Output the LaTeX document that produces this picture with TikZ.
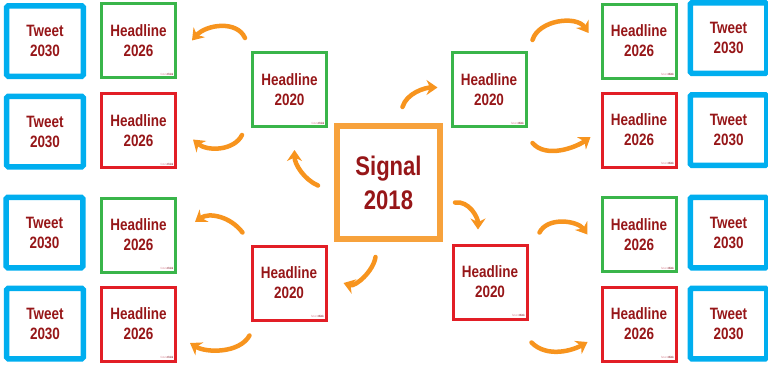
\documentclass[tikz,border=0pt]{standalone}
\usepackage{fontspec}
\setmainfont{Liberation Sans}[FakeStretch=0.82]
\usepackage{xcolor}
\usetikzlibrary{arrows.meta}

\definecolor{tweetblue}{RGB}{0,174,239}
\definecolor{hlgreen}{RGB}{57,181,74}
\definecolor{hlred}{RGB}{226,30,38}
\definecolor{sigorange}{RGB}{247,162,60}
\definecolor{arrorange}{RGB}{247,148,30}
\definecolor{txtred}{RGB}{150,22,24}
\definecolor{logopink}{RGB}{225,165,175}
\definecolor{logodark}{RGB}{150,60,70}

\begin{document}
\begin{tikzpicture}[x=1bp, y=-1bp,
    tweet/.style={draw=tweetblue, line width=5.5bp, rounded corners=1.5bp,
        minimum width=76.5bp, minimum height=70.5bp, inner sep=0pt, align=center,
        text=txtred, font=\bfseries\fontsize{16.5}{20}\selectfont},
    headline/.style={line width=3bp, minimum width=74bp, minimum height=74bp,
        inner sep=0pt, align=center, text=txtred,
        font=\bfseries\fontsize{16.5}{20}\selectfont},
    good/.style={headline, draw=hlgreen},
    bad/.style={headline, draw=hlred},
    signal/.style={draw=sigorange, line width=6bp, minimum width=103bp,
        minimum height=113bp, inner sep=0pt, align=center, text=txtred,
        font=\bfseries\fontsize{27}{34}\selectfont},
    flow/.style={arrorange, line width=4.5bp, line cap=round,
        -{Stealth[length=11bp, width=15bp]}},
    logo/.style={anchor=south east, inner sep=0pt,
        font=\bfseries\fontsize{3}{3}\selectfont}]

    \useasboundingbox (0,0) rectangle (768,364);

    % Signal central
    \node[signal] (sig) at (388.5,182.5) {Signal\\2018};

    % Titres 2020
    \node[good] (h20tl) at (289.5,89.5) {Headline\\2020};
    \node[good] (h20tr) at (489,89.5) {Headline\\2020};
    \node[bad] (h20bl) at (289,283) {Headline\\2020};
    \node[bad] (h20br) at (490,282) {Headline\\2020};

    % Titres 2026
    \node[good] (h26l1) at (138.5,40.5) {Headline\\2026};
    \node[bad] (h26l2) at (138.5,130.5) {Headline\\2026};
    \node[good] (h26l3) at (138.5,235) {Headline\\2026};
    \node[bad] (h26l4) at (138.5,324) {Headline\\2026};
    \node[good] (h26r1) at (639,41) {Headline\\2026};
    \node[bad] (h26r2) at (639,130) {Headline\\2026};
    \node[good] (h26r3) at (639,234.5) {Headline\\2026};
    \node[bad] (h26r4) at (639,324) {Headline\\2026};

    % Tweets 2030
    \node[tweet] (twl1) at (45,41) {Tweet\\2030};
    \node[tweet] (twl2) at (45,131.5) {Tweet\\2030};
    \node[tweet] (twl3) at (44.5,232.5) {Tweet\\2030};
    \node[tweet] (twl4) at (45,323.5) {Tweet\\2030};
    \node[tweet] (twr1) at (728.5,38) {Tweet\\2030};
    \node[tweet] (twr2) at (728.5,130) {Tweet\\2030};
    \node[tweet] (twr3) at (728.5,232.5) {Tweet\\2030};
    \node[tweet] (twr4) at (728.5,323.5) {Tweet\\2030};

    % Logos
    \foreach \n in {h20tl,h20tr,h20bl,h20br,h26l1,h26l2,h26l3,h26l4,h26r1,h26r2,h26r3,h26r4}
        \node[logo] (lg-\n) at ([shift={(-3.5,-3.5)}]\n.south east)
            {\textcolor{logopink}{future}\textcolor{logodark}{think}};

    % Fleches depuis le signal
    \draw[flow] ([shift={(-16,3)}]sig.west) .. controls +(-14,-6) and +(0,14) .. ([shift={(5,22)}]h20tl.south);
    \draw[flow] ([shift={(14,-16)}]sig.north) .. controls +(4,-14) and +(-12,0) .. ([shift={(-13,-2)}]h20tr.west);
    \draw[flow] ([shift={(12,20)}]sig.east) .. controls +(14,-2) and +(0,-12) .. ([shift={(-12,-14)}]h20br.north);
    \draw[flow] ([shift={(-13,15)}]sig.south) .. controls +(-2,14) and +(12,4) .. ([shift={(16,0)}]h20bl.east);

    % Fleches vers 2026, gauche
    \draw[flow] ([shift={(-6,-13)}]h20tl.north west) .. controls +(-8,-18) and +(14,-16) .. ([shift={(15,0)}]h26l1.east);
    \draw[flow] ([shift={(-9,7)}]h20tl.south west) .. controls +(-8,16) and +(14,12) .. ([shift={(16,9)}]h26l2.east);
    \draw[flow] ([shift={(-8,-12)}]h20bl.north west) .. controls +(-12,-16) and +(14,-10) .. ([shift={(18,-13)}]h26l3.east);
    \draw[flow] ([shift={(-1,14)}]h20bl.south west) .. controls +(-10,18) and +(16,10) .. ([shift={(13,19)}]h26l4.east);

    % Fleches vers 2026, droite
    \draw[flow] ([shift={(5,-11)}]h20tr.north east) .. controls +(6,-20) and +(-12,-18) .. ([shift={(-12,-8)}]h26r1.west);
    \draw[flow] ([shift={(5,15)}]h20tr.south east) .. controls +(14,16) and +(-14,10) .. ([shift={(-10,7)}]h26r2.west);
    \draw[flow] ([shift={(11,-11)}]h20br.north east) .. controls +(8,-16) and +(-10,-14) .. ([shift={(-13,0)}]h26r3.west);
    \draw[flow] ([shift={(3,22)}]h20br.south east) .. controls +(16,16) and +(-14,8) .. ([shift={(-13,18)}]h26r4.west);
\end{tikzpicture}
\end{document}
